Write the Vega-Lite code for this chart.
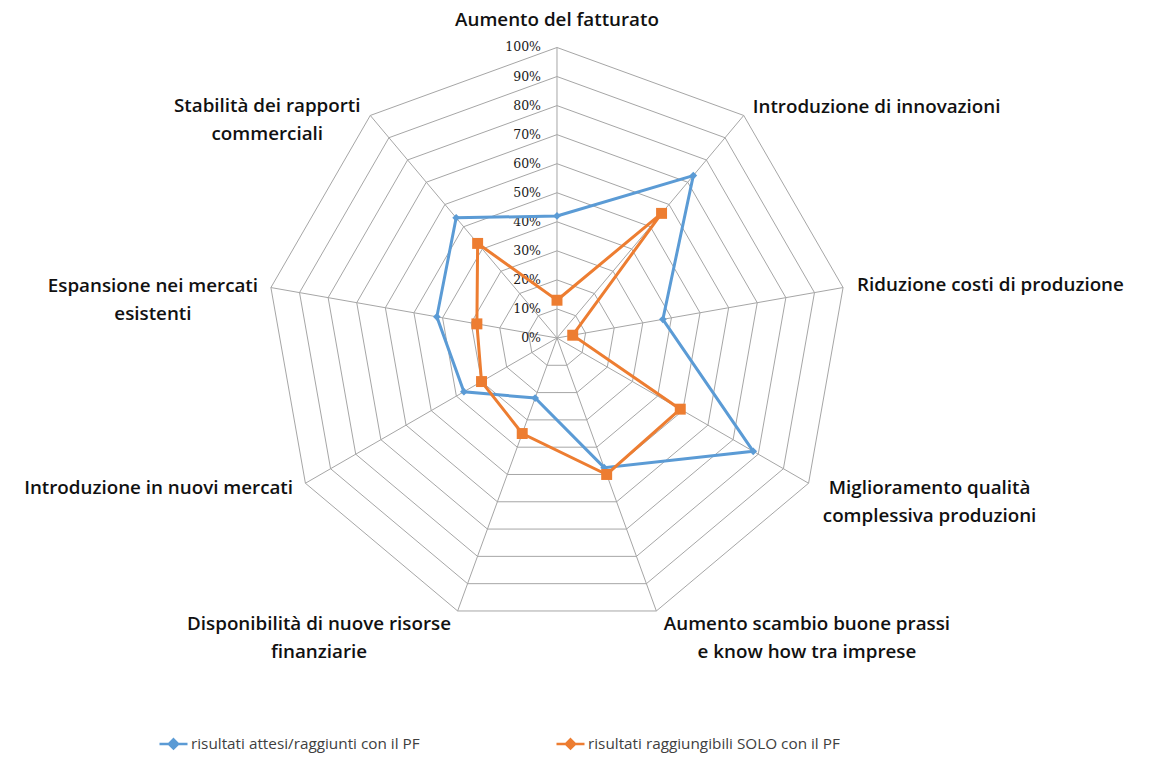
{
  "$schema": "https://vega.github.io/schema/vega-lite/v6.json",
  "width": 1151,
  "height": 762,
  "autosize": "none",
  "padding": 0,
  "background": "white",
  "config": {"view": {"stroke": null}},
  "datasets": {
    "axes": [
      {"k": 0, "label": "Aumento del fatturato", "levels": [10, 20, 30, 40, 50, 60, 70, 80, 90, 100]},
      {"k": 1, "label": "Introduzione di innovazioni", "levels": [10, 20, 30, 40, 50, 60, 70, 80, 90, 100]},
      {"k": 2, "label": "Riduzione costi di produzione", "levels": [10, 20, 30, 40, 50, 60, 70, 80, 90, 100]},
      {"k": 3, "label": "Miglioramento qualità\ncomplessiva produzioni", "levels": [10, 20, 30, 40, 50, 60, 70, 80, 90, 100]},
      {"k": 4, "label": "Aumento scambio buone prassi\ne know how tra imprese", "levels": [10, 20, 30, 40, 50, 60, 70, 80, 90, 100]},
      {"k": 5, "label": "Disponibilità di nuove risorse\nfinanziarie", "levels": [10, 20, 30, 40, 50, 60, 70, 80, 90, 100]},
      {"k": 6, "label": "Introduzione in nuovi mercati", "levels": [10, 20, 30, 40, 50, 60, 70, 80, 90, 100]},
      {"k": 7, "label": "Espansione nei mercati\nesistenti", "levels": [10, 20, 30, 40, 50, 60, 70, 80, 90, 100]},
      {"k": 8, "label": "Stabilità dei rapporti\ncommerciali", "levels": [10, 20, 30, 40, 50, 60, 70, 80, 90, 100]}
    ],
    "ticks": [
      {"level": 0, "text": "0%"}, {"level": 10, "text": "10%"}, {"level": 20, "text": "20%"},
      {"level": 30, "text": "30%"}, {"level": 40, "text": "40%"}, {"level": 50, "text": "50%"},
      {"level": 60, "text": "60%"}, {"level": 70, "text": "70%"}, {"level": 80, "text": "80%"},
      {"level": 90, "text": "90%"}, {"level": 100, "text": "100%"}
    ],
    "values": [
      {"k": 0, "series": "risultati attesi/raggiunti con il PF", "value": 42},
      {"k": 1, "series": "risultati attesi/raggiunti con il PF", "value": 73},
      {"k": 2, "series": "risultati attesi/raggiunti con il PF", "value": 37},
      {"k": 3, "series": "risultati attesi/raggiunti con il PF", "value": 78},
      {"k": 4, "series": "risultati attesi/raggiunti con il PF", "value": 47.5},
      {"k": 5, "series": "risultati attesi/raggiunti con il PF", "value": 22},
      {"k": 6, "series": "risultati attesi/raggiunti con il PF", "value": 37},
      {"k": 7, "series": "risultati attesi/raggiunti con il PF", "value": 42},
      {"k": 8, "series": "risultati attesi/raggiunti con il PF", "value": 54},
      {"k": 0, "series": "risultati raggiungibili SOLO con il PF", "value": 13},
      {"k": 1, "series": "risultati raggiungibili SOLO con il PF", "value": 56},
      {"k": 2, "series": "risultati raggiungibili SOLO con il PF", "value": 5.5},
      {"k": 3, "series": "risultati raggiungibili SOLO con il PF", "value": 49},
      {"k": 4, "series": "risultati raggiungibili SOLO con il PF", "value": 50},
      {"k": 5, "series": "risultati raggiungibili SOLO con il PF", "value": 35},
      {"k": 6, "series": "risultati raggiungibili SOLO con il PF", "value": 30},
      {"k": 7, "series": "risultati raggiungibili SOLO con il PF", "value": 28},
      {"k": 8, "series": "risultati raggiungibili SOLO con il PF", "value": 42.5}
    ]
  },
  "layer": [
    {
      "data": {"name": "axes"},
      "transform": [
        {"flatten": ["levels"], "as": ["level"]},
        {"calculate": "datum.k * 2 * PI / 9", "as": "theta"},
        {"calculate": "datum.level * sin(datum.theta)", "as": "gx"},
        {"calculate": "datum.level * cos(datum.theta)", "as": "gy"}
      ],
      "mark": {"type": "line", "interpolate": "linear-closed", "stroke": "#a6a6a6", "strokeWidth": 1},
      "encoding": {
        "x": {"field": "gx", "type": "quantitative", "scale": {"domain": [-191.74, 204.48], "nice": false, "zero": false}, "axis": null},
        "y": {"field": "gy", "type": "quantitative", "scale": {"domain": [-145.96, 116.35], "nice": false, "zero": false}, "axis": null},
        "detail": {"field": "level", "type": "nominal"},
        "order": {"field": "k", "type": "quantitative"}
      }
    },
    {
      "data": {"name": "axes"},
      "transform": [
        {"calculate": "datum.k * 2 * PI / 9", "as": "theta"},
        {"calculate": "100 * sin(datum.theta)", "as": "sx"},
        {"calculate": "100 * cos(datum.theta)", "as": "sy"},
        {"calculate": "0", "as": "o"}
      ],
      "mark": {"type": "rule", "stroke": "#a6a6a6", "strokeWidth": 1},
      "encoding": {
        "x": {"field": "o", "type": "quantitative", "scale": {"domain": [-191.74, 204.48], "nice": false, "zero": false}, "axis": null},
        "y": {"field": "o", "type": "quantitative", "scale": {"domain": [-145.96, 116.35], "nice": false, "zero": false}, "axis": null},
        "x2": {"field": "sx"},
        "y2": {"field": "sy"}
      }
    },
    {
      "data": {"name": "ticks"},
      "transform": [{"calculate": "0", "as": "o"}],
      "mark": {"type": "text", "align": "right", "baseline": "middle", "dx": -16, "font": "DejaVu Serif", "fontSize": 12.5, "fill": "#1a1a1a"},
      "encoding": {
        "x": {"field": "o", "type": "quantitative", "scale": {"domain": [-191.74, 204.48], "nice": false, "zero": false}, "axis": null},
        "y": {"field": "level", "type": "quantitative", "scale": {"domain": [-145.96, 116.35], "nice": false, "zero": false}, "axis": null},
        "text": {"field": "text"}
      }
    },
    {
      "data": {"name": "values"},
      "transform": [
        {"calculate": "datum.k * 2 * PI / 9", "as": "theta"},
        {"calculate": "datum.value * sin(datum.theta)", "as": "px"},
        {"calculate": "datum.value * cos(datum.theta)", "as": "py"}
      ],
      "layer": [
        {
          "mark": {"type": "line", "interpolate": "linear-closed", "strokeWidth": 3},
          "encoding": {
            "x": {"field": "px", "type": "quantitative", "scale": {"domain": [-191.74, 204.48], "nice": false, "zero": false}, "axis": null},
            "y": {"field": "py", "type": "quantitative", "scale": {"domain": [-145.96, 116.35], "nice": false, "zero": false}, "axis": null},
            "order": {"field": "k", "type": "quantitative"},
            "color": {
              "field": "series", "type": "nominal",
              "scale": {"domain": ["risultati attesi/raggiunti con il PF", "risultati raggiungibili SOLO con il PF"], "range": ["#5b9bd5", "#ed7d31"]},
              "legend": {
                "orient": "none", "legendX": 158, "legendY": 728, "direction": "horizontal", "title": null,
                "symbolType": "M-1,0H1M0,-0.33L0.33,0L0,0.33L-0.33,0Z",
                "symbolSize": 784, "symbolStrokeWidth": 2.5, "labelOffset": 2, "columnPadding": 131,
                "labelFont": "Open Sans", "labelFontSize": 15.3, "labelColor": "#404040", "labelLimit": 0
              }
            }
          }
        },
        {
          "mark": {"type": "point", "filled": true, "opacity": 1},
          "encoding": {
            "x": {"field": "px", "type": "quantitative", "scale": {"domain": [-191.74, 204.48], "nice": false, "zero": false}, "axis": null},
            "y": {"field": "py", "type": "quantitative", "scale": {"domain": [-145.96, 116.35], "nice": false, "zero": false}, "axis": null},
            "color": {"field": "series", "type": "nominal"},
            "shape": {"field": "series", "type": "nominal", "scale": {"range": ["diamond", "square"]}, "legend": null},
            "size": {"field": "series", "type": "nominal", "scale": {"range": [60, 120]}, "legend": null}
          }
        }
      ]
    },
    {
      "data": {"name": "axes"},
      "transform": [
        {"calculate": "datum.k * 2 * PI / 9", "as": "theta"},
        {"calculate": "100 * sin(datum.theta)", "as": "lx"},
        {"calculate": "100 * cos(datum.theta)", "as": "ly"}
      ],
      "encoding": {
        "x": {"field": "lx", "type": "quantitative", "scale": {"domain": [-191.74, 204.48], "nice": false, "zero": false}, "axis": null},
        "y": {"field": "ly", "type": "quantitative", "scale": {"domain": [-145.96, 116.35], "nice": false, "zero": false}, "axis": null},
        "text": {"field": "label"}
      },
      "layer": [
        {"transform": [{"filter": "datum.k === 0"}], "mark": {"type": "text", "align": "center", "baseline": "middle", "dx": 0, "dy": -27.5, "font": "Open Sans", "fontSize": 18.8, "fontWeight": 600, "fill": "#111111", "lineBreak": "\n", "lineHeight": 28}},
        {"transform": [{"filter": "datum.k === 1"}], "mark": {"type": "text", "align": "left", "baseline": "middle", "dx": 9, "dy": -8.5, "font": "Open Sans", "fontSize": 18.8, "fontWeight": 600, "fill": "#111111", "lineBreak": "\n", "lineHeight": 28}},
        {"transform": [{"filter": "datum.k === 2"}], "mark": {"type": "text", "align": "left", "baseline": "middle", "dx": 14, "dy": -2.6, "font": "Open Sans", "fontSize": 18.8, "fontWeight": 600, "fill": "#111111", "lineBreak": "\n", "lineHeight": 28}},
        {"transform": [{"filter": "datum.k === 3"}], "mark": {"type": "text", "align": "center", "baseline": "middle", "dx": 121, "dy": 5, "font": "Open Sans", "fontSize": 18.8, "fontWeight": 600, "fill": "#111111", "lineBreak": "\n", "lineHeight": 28}},
        {"transform": [{"filter": "datum.k === 4"}], "mark": {"type": "text", "align": "center", "baseline": "middle", "dx": 150.6, "dy": 13, "font": "Open Sans", "fontSize": 18.8, "fontWeight": 600, "fill": "#111111", "lineBreak": "\n", "lineHeight": 28}},
        {"transform": [{"filter": "datum.k === 5"}], "mark": {"type": "text", "align": "center", "baseline": "middle", "dx": -138.6, "dy": 13, "font": "Open Sans", "fontSize": 18.8, "fontWeight": 600, "fill": "#111111", "lineBreak": "\n", "lineHeight": 28}},
        {"transform": [{"filter": "datum.k === 6"}], "mark": {"type": "text", "align": "right", "baseline": "middle", "dx": -12.4, "dy": 4.7, "font": "Open Sans", "fontSize": 18.8, "fontWeight": 600, "fill": "#111111", "lineBreak": "\n", "lineHeight": 28}},
        {"transform": [{"filter": "datum.k === 7"}], "mark": {"type": "text", "align": "center", "baseline": "middle", "dx": -118, "dy": -1.6, "font": "Open Sans", "fontSize": 18.8, "fontWeight": 600, "fill": "#111111", "lineBreak": "\n", "lineHeight": 28}},
        {"transform": [{"filter": "datum.k === 8"}], "mark": {"type": "text", "align": "center", "baseline": "middle", "dx": -103, "dy": -9.5, "font": "Open Sans", "fontSize": 18.8, "fontWeight": 600, "fill": "#111111", "lineBreak": "\n", "lineHeight": 28}}
      ]
    }
  ]
}
